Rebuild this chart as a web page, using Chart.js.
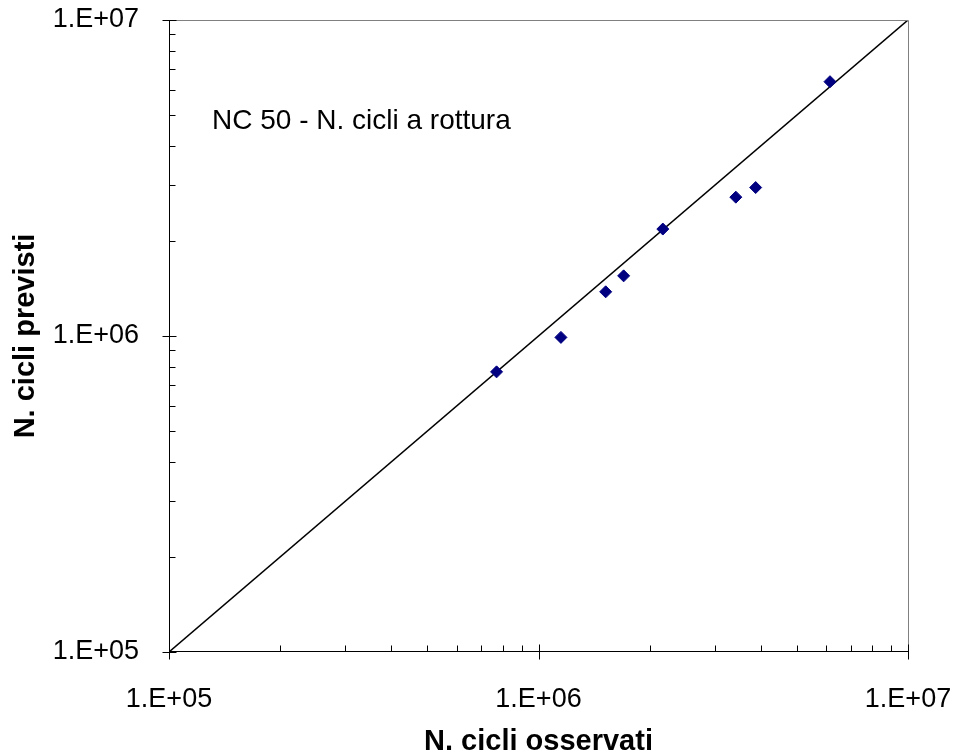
<!DOCTYPE html>
<html>
<head>
<meta charset="utf-8">
<script src="https://cdn.jsdelivr.net/npm/chart.js@4.4.1/dist/chart.umd.min.js"></script>
<style>
  body { margin: 0; background: #fff; }
  #wrap { width: 953px; height: 756px; }
</style>
</head>
<body>
<div id="wrap"><canvas id="myChart" width="953" height="756"></canvas></div>
<script>
// dati
var cicliOsservati = [7.7e5, 1.15e6, 1.52e6, 1.70e6, 2.17e6, 3.42e6, 3.87e6, 6.15e6];
var cicliPrevisti  = [7.7e5, 9.9e5, 1.38e6, 1.55e6, 2.18e6, 2.75e6, 2.95e6, 6.38e6];
// bisettrice
var lineaX = [1e5, 1e7];
var lineaY = [1e5, 1e7];
// etichette assi
var tickValues = [1e5, 1e6, 1e7];
var tickLabels = ['1.E+05', '1.E+06', '1.E+07'];
var titoloX = 'N. cicli osservati';
var titoloY = 'N. cicli previsti';
var nota = 'NC 50 - N. cicli a rottura';

var FONT = 'Arial, "Liberation Sans", sans-serif';

var punti = cicliOsservati.map(function(v, i){ return {x: v, y: cicliPrevisti[i]}; });
var bisettrice = lineaX.map(function(v, i){ return {x: v, y: lineaY[i]}; });

// tacche minori (2..9 per decade)
function minorValues() {
  var out = [];
  for (var k = 0; k < tickValues.length - 1; k++) {
    for (var m = 2; m <= 9; m++) out.push(m * tickValues[k]);
  }
  return out;
}

// disegna assi, bordi, tacche e nota
var assiPlugin = {
  id: 'assi',
  afterDraw: function(chart) {
    var ctx = chart.ctx;
    var a = chart.chartArea;
    var xs = chart.scales.x, ys = chart.scales.y;
    var L = Math.round(a.left) + 0.5, R = Math.round(a.right) + 0.5;
    var T = Math.round(a.top) + 0.5, B = Math.round(a.bottom) - 0.5;
    ctx.save();
    ctx.lineWidth = 1;
    // bordi grigi sopra e destra
    ctx.strokeStyle = '#808080';
    ctx.beginPath();
    ctx.moveTo(L, T); ctx.lineTo(R, T); ctx.lineTo(R, B);
    ctx.stroke();
    // assi neri
    ctx.strokeStyle = '#000';
    ctx.beginPath();
    ctx.moveTo(L, T); ctx.lineTo(L, B); ctx.lineTo(R, B);
    ctx.stroke();
    // tacche
    ctx.beginPath();
    tickValues.forEach(function(v){
      var px = Math.round(xs.getPixelForValue(v)) + 0.5;
      ctx.moveTo(px, B - 7); ctx.lineTo(px, B + 8);
      var py = Math.round(ys.getPixelForValue(v)) + 0.5;
      ctx.moveTo(L - 7, py); ctx.lineTo(L + 7, py);
    });
    minorValues().forEach(function(v){
      var px = Math.round(xs.getPixelForValue(v)) + 0.5;
      ctx.moveTo(px, B); ctx.lineTo(px, B - 6);
      var py = Math.round(ys.getPixelForValue(v)) + 0.5;
      ctx.moveTo(L, py); ctx.lineTo(L + 6, py);
    });
    ctx.stroke();
    // nota
    ctx.fillStyle = '#000';
    ctx.font = '28px ' + FONT;
    ctx.textAlign = 'left';
    ctx.textBaseline = 'middle';
    ctx.fillText(nota, a.left + 43, 121);
    ctx.restore();
  }
};

const myCt = document.getElementById('myChart');
new Chart(myCt, {
  type: 'scatter',
  data: {
    datasets: [
      {
        label: 'bisettrice',
        type: 'line',
        data: bisettrice,
        borderColor: '#000',
        borderWidth: 1.5,
        pointRadius: 0,
        fill: false,
        order: 2
      },
      {
        label: 'dati',
        data: punti,
        pointStyle: 'rectRot',
        pointRadius: 6,
        pointHoverRadius: 6,
        backgroundColor: '#000080',
        borderColor: '#000080',
        borderWidth: 1,
        order: 1
      }
    ]
  },
  options: {
    responsive: false,
    animation: false,
    events: [],
    layout: { padding: { top: 20, right: 45, left: 0, bottom: 0 } },
    plugins: { legend: { display: false }, tooltip: { enabled: false } },
    scales: {
      x: {
        type: 'logarithmic',
        position: 'bottom',
        min: 1e5, max: 1e7,
        grid: { display: false },
        border: { display: false },
        afterBuildTicks: function(s){ s.ticks = tickValues.map(function(v){ return {value: v}; }); },
        afterFit: function(s){ s.height = 104; s.paddingLeft = 0; s.paddingRight = 0; },
        ticks: {
          autoSkip: false, maxRotation: 0, padding: 26, color: '#000',
          font: { family: FONT, size: 27, lineHeight: 1 },
          callback: function(v, i){ return tickLabels[i]; }
        },
        title: {
          display: true, text: titoloX, color: '#000',
          font: { family: FONT, size: 29, weight: 'bold', lineHeight: 1 },
          padding: { top: 0, bottom: 0 }
        }
      },
      y: {
        type: 'logarithmic',
        position: 'left',
        min: 1e5, max: 1e7,
        grid: { display: false },
        border: { display: false },
        afterBuildTicks: function(s){ s.ticks = tickValues.map(function(v){ return {value: v}; }); },
        afterFit: function(s){ s.width = 169; s.paddingTop = 0; s.paddingBottom = 0; },
        ticks: {
          autoSkip: false, padding: 22, color: '#000',
          font: { family: FONT, size: 27, lineHeight: 1 },
          callback: function(v, i){ return tickLabels[i]; }
        },
        title: {
          display: true, text: titoloY, color: '#000',
          font: { family: FONT, size: 29, weight: 'bold', lineHeight: 1 },
          padding: { top: 11, bottom: 0 }
        }
      }
    }
  },
  plugins: [assiPlugin]
});
</script>
</body>
</html>
